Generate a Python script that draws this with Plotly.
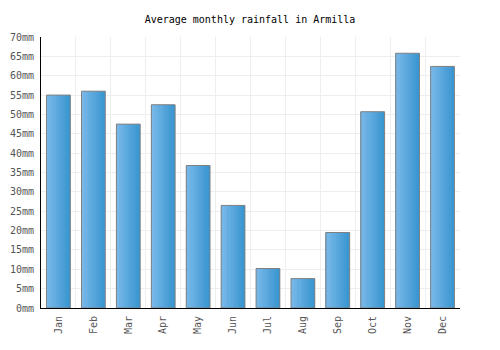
import plotly.graph_objects as go

months = ["Jan", "Feb", "Mar", "Apr", "May", "Jun", "Jul", "Aug", "Sep", "Oct", "Nov", "Dec"]
rainfall = [55.0, 56.0, 47.5, 52.5, 36.8, 26.5, 10.2, 7.6, 19.5, 50.7, 65.8, 62.4]

x = list(range(len(months)))
bar_w = 0.68
n_slices = 14
c_left = (122, 185, 234)
c_right = (58, 150, 208)

fig = go.Figure()
sw = bar_w / n_slices
for i in range(n_slices):
    t = i / (n_slices - 1)
    col = tuple(round(a + (b - a) * t) for a, b in zip(c_left, c_right))
    fig.add_trace(go.Bar(
        x=x, y=rainfall, width=[sw * 1.05] * len(x), offset=-bar_w / 2 + i * sw,
        marker=dict(color="rgb(%d,%d,%d)" % col, line=dict(width=0)),
        hoverinfo="skip", showlegend=False,
    ))
fig.add_trace(go.Bar(
    x=x, y=rainfall, width=[bar_w] * len(x), offset=-bar_w / 2,
    marker=dict(color="rgba(0,0,0,0)", line=dict(color="#808080", width=1)),
    showlegend=False, name="Rainfall",
))

font = "DejaVu Sans Mono, monospace"
fig.update_layout(
    width=500, height=350,
    margin=dict(l=41, r=40, t=37, b=42),
    barmode="overlay",
    paper_bgcolor="white", plot_bgcolor="white",
    title=dict(text="Average monthly rainfall in Armilla", x=0.5, xanchor="center",
               y=1 - 19 / 350, yanchor="middle", font=dict(family=font, size=10, color="#000")),
    font=dict(family=font, size=10, color="#555"),
    xaxis=dict(
        range=[-0.5, 11.5], tickmode="array", tickvals=x, ticktext=months,
        tickangle=-90, showgrid=False, zeroline=False,
        showline=True, linecolor="#000", linewidth=1, ticks="",
        minor=dict(tickmode="linear", tick0=0.5, dtick=1, showgrid=True, gridcolor="#eeeeee", gridwidth=1),
        tickfont=dict(family=font, size=10, color="#555"),
        ticklabelstandoff=3, automargin=False,
    ),
    yaxis=dict(
        range=[0, 70], dtick=5, ticksuffix="mm", showgrid=True, gridcolor="#eeeeee",
        zeroline=False, showline=True, linecolor="#000", linewidth=1, ticks="",
        tickfont=dict(family=font, size=10, color="#555"),
        ticklabelstandoff=4, automargin=False,
    ),
)

fig.write_html("out.html")
